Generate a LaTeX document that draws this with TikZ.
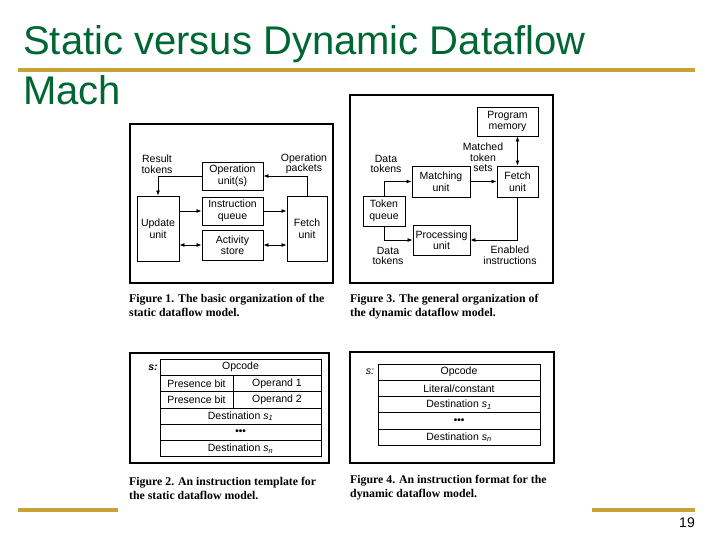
\documentclass[tikz,border=0pt]{standalone}
\usepackage{fontspec}
\setmainfont{Liberation Sans}
\newfontfamily\capfont{Liberation Serif}
\usetikzlibrary{arrows.meta,positioning}
\definecolor{sdgreen}{HTML}{006633}
\definecolor{sdgold}{HTML}{C9A236}
\tikzset{
  unit/.style={draw,line width=0.9pt,align=center,inner sep=1pt,
               font=\fontsize{10.5}{11.5}\selectfont},
  lbl/.style={align=center,inner sep=0pt,font=\fontsize{10.5}{10.5}\selectfont},
  cell/.style={draw,line width=0.9pt,minimum height=16.3pt,inner sep=0pt,outer sep=0pt,
               font=\fontsize{10.5}{11}\selectfont},
  figframe/.style={draw,line width=1.3pt},
  ar/.style={-{Latex[length=5pt,width=4pt]},line width=0.8pt},
  dar/.style={{Latex[length=5pt,width=4pt]}-{Latex[length=5pt,width=4pt]},line width=0.8pt},
  figcap/.style={anchor=north west,align=left,inner sep=0pt,
              font=\capfont\bfseries\fontsize{11.8}{14}\selectfont},
  goldrule/.style={sdgold,line width=3.5pt},
  ttl/.style={anchor=base west,inner sep=0pt,text=sdgreen,font=\fontsize{40}{40}\selectfont},
}
\newcommand{\dest}[1]{Destination \textit{s}\textsubscript{\textit{#1}}}
\newcommand{\moredots}{{\fontsize{10}{10}\selectfont\bfseries •••}}

\begin{document}
\begin{tikzpicture}[x=1pt,y=-1pt]
  \useasboundingbox (0,0) rectangle (720,540);
  \node[ttl] (title) at (23,55) {Static versus Dynamic Dataflow};
  \node[ttl] (title2) at (23,105) {Mach};
  \draw[goldrule] (18,70) -- (695,70);
  \draw[goldrule] (18,510) -- (118,510);
  \draw[goldrule] (592,510) -- (695,510);
  \node[anchor=base east,inner sep=0pt,font=\fontsize{14}{14}\selectfont] (pageno) at (695,527) {19};

  % figure 1
  \draw[figframe] (130,124) rectangle (333,283);
  \node[unit,minimum width=61pt,minimum height=28pt] (opu) at (232.5,176) {Operation\\unit(s)};
  \node[unit,minimum width=61pt,minimum height=28pt] (iq) at (232.5,211) {Instruction\\queue};
  \node[unit,minimum width=61pt,minimum height=30pt] (act) at (232.5,245) {Activity\\store};
  \node[unit,minimum width=42pt,minimum height=65pt] (upd) at (158,228.5) {Update\\unit};
  \node[unit,minimum width=40pt,minimum height=65pt] (fet1) at (307,228.5) {Fetch\\unit};
  \node[lbl] (rtok) at (157,164) {Result\\tokens};
  \node[lbl] (opk) at (304,164) {Operation\\packets};
  \draw[ar] (opu.west) -| (upd.north);
  \draw[ar] (fet1.north) |- (opu.east);
  \draw[ar] (upd.east |- iq.west) -- (iq.west);
  \draw[ar] (iq.east) -- (fet1.west |- iq.east);
  \draw[dar] (upd.east |- act.west) -- (act.west);
  \draw[dar] (act.east) -- (fet1.west |- act.east);
  \node[figcap] (cap1) at (129,294) {Figure 1. The basic organization of the\\static dataflow model.};

  % figure 3
  \draw[figframe] (350,95) rectangle (553,283);
  \node[unit,minimum width=61pt,minimum height=29pt] (prog) at (507.5,121.5) {Program\\memory};
  \node[unit,minimum width=41pt,minimum height=31pt] (fet3) at (517.5,181.5) {Fetch\\unit};
  \node[unit,minimum width=58pt,minimum height=31pt] (mat) at (441,181.5) {Matching\\unit};
  \node[unit,minimum width=42pt,minimum height=30pt] (tq) at (384,211) {Token\\queue};
  \node[unit,minimum width=57pt,minimum height=30pt] (proc) at (441.5,240) {Processing\\unit};
  \node[lbl] (mts) at (483,157.5) {Matched\\token\\sets};
  \node[lbl] (dt1) at (386,164) {Data\\tokens};
  \node[lbl] (dt2) at (388,256) {Data\\tokens};
  \node[lbl] (eni) at (510,255) {Enabled\\instructions};
  \draw[dar] (fet3.north) -- (fet3.north |- prog.south);
  \draw[ar] (mat.east) -- (fet3.west);
  \draw[ar] (tq.north) |- (mat.west);
  \draw[ar] (tq.south) |- (proc.west);
  \draw[ar] (fet3.south) |- (proc.east);
  \node[figcap] (cap3) at (350,294) {Figure 3. The general organization of\\the dynamic dataflow model.};

  % figure 2
  \draw[figframe] (130,353) rectangle (329,463);
  \node[cell,minimum width=161pt] (opc2) at (240.5,367.2) {Opcode};
  \node[cell,anchor=north west,minimum width=73pt] (pb1) at (opc2.south west) {Presence bit};
  \node[cell,anchor=north east,minimum width=88pt] (op1) at (opc2.south east) {Operand 1};
  \node[cell,anchor=north west,minimum width=73pt] (pb2) at (pb1.south west) {Presence bit};
  \node[cell,anchor=north east,minimum width=88pt] (op2) at (op1.south east) {Operand 2};
  \node[cell,anchor=north west,minimum width=161pt] (ds1) at (pb2.south west) {\dest{1}};
  \node[cell,below=0pt of ds1,minimum width=161pt] (dots2) {\moredots};
  \node[cell,below=0pt of dots2,minimum width=161pt] (dsn) {\dest{n}};
  \node[lbl,font=\fontsize{10.5}{11}\selectfont\bfseries\itshape] (s2) at (153,368) {s:};
  \node[figcap] (cap2) at (129,477) {Figure 2. An instruction template for\\the static dataflow model.};

  % figure 4
  \draw[figframe] (350,352) rectangle (554,463);
  \node[cell,minimum width=162pt] (opc4) at (459,372.1) {Opcode};
  \node[cell,below=0pt of opc4,minimum width=162pt] (lit) {Literal/constant};
  \node[cell,below=0pt of lit,minimum width=162pt] (ds14) {\dest{1}};
  \node[cell,below=0pt of ds14,minimum width=162pt] (dots4) {\moredots};
  \node[cell,below=0pt of dots4,minimum width=162pt] (dsn4) {\dest{n}};
  \node[lbl,font=\fontsize{10.5}{11}\selectfont\itshape] (s4) at (370,372) {s:};
  \node[figcap] (cap4) at (350,475) {Figure 4. An instruction format for the\\dynamic dataflow model.};
\end{tikzpicture}
\end{document}
